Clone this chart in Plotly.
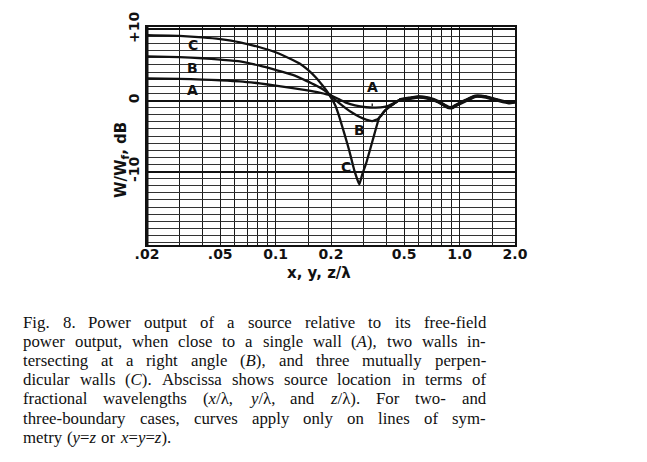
import math
import plotly.graph_objects as go

# ---------------- data ----------------
TAIL_X = [0.47, 0.53, 0.60, 0.68, 0.77, 0.83, 0.875, 0.92, 0.97, 1.08, 1.22, 1.39, 1.64, 1.85, 2.0]
TAIL_Y = [0.05, 0.30, 0.50, 0.30, -0.20, -0.70, -1.00, -0.95, -0.60, 0.00, 0.60, 0.50, 0.00, -0.30, -0.20]

A_X = [0.02, 0.03, 0.04, 0.05, 0.064, 0.082, 0.10, 0.124, 0.146, 0.173, 0.20, 0.22, 0.241, 0.27,
       0.31, 0.35, 0.39, 0.41, 0.44]
A_Y = [3.1, 3.05, 2.95, 2.85, 2.7, 2.4, 2.1, 1.75, 1.45, 1.1, 0.7, 0.2, -0.3, -0.7,
       -0.95, -1.0, -0.9, -0.75, -0.35]

B_X = [0.02, 0.03, 0.04, 0.05, 0.064, 0.082, 0.10, 0.124, 0.146, 0.166, 0.187, 0.20, 0.22, 0.241,
       0.26, 0.285, 0.31, 0.335, 0.36, 0.375, 0.39, 0.41, 0.44]
B_Y = [6.2, 6.1, 5.95, 5.75, 5.5, 4.9, 4.3, 3.6, 2.8, 2.1, 1.3, 0.6, -0.3, -1.1,
       -1.7, -2.3, -2.7, -2.9, -2.6, -2.1, -1.5, -1.0, -0.45]

C_X = [0.02, 0.03, 0.04, 0.05, 0.064, 0.082, 0.10, 0.124, 0.135, 0.15, 0.166, 0.18, 0.19, 0.20,
       0.212, 0.222, 0.231, 0.241, 0.251, 0.2675, 0.285, 0.295, 0.31, 0.337, 0.366, 0.375, 0.39,
       0.41, 0.44]
C_Y = [9.2, 9.1, 8.9, 8.65, 8.2, 7.5, 6.8, 5.7, 5.2, 4.3, 3.2, 2.1, 1.3, 0.4,
       -0.8, -2.3, -3.8, -5.4, -7.0, -9.8, -11.8, -10.5, -8.9, -5.6, -2.4, -2.1, -1.5,
       -1.0, -0.45]

X_TICKS = [0.02, 0.05, 0.1, 0.2, 0.5, 1.0, 2.0]
X_TICK_TEXT = [".02", ".05", "0.1", "0.2", "0.5", "1.0", "2.0"]
X_MINOR = [0.03, 0.04, 0.06, 0.07, 0.08, 0.09, 0.15, 0.3, 0.4, 0.6, 0.7, 0.8, 0.9, 1.5]
X_HEAVY = [0.2, 1.0]
Y_TICKS = [-10, 0, 10]
Y_TICK_TEXT = ["-10", "0", "+10"]

CAPTION = [
    "Fig.  8. Power output of a source relative to its free-field",
    "power output, when close to a single wall (<i>A</i>), two walls in-",
    "tersecting at a right angle (<i>B</i>), and three mutually perpen-",
    "dicular walls (<i>C</i>). Abscissa shows source location in terms of",
    "fractional wavelengths (<i>x</i>/λ, <i>y</i>/λ, and <i>z</i>/λ). For two- and",
    "three-boundary cases, curves apply only on lines of sym-",
    "metry (<i>y</i>=<i>z</i> or <i>x</i>=<i>y</i>=<i>z</i>).",
]

# ---------------- layout geometry ----------------
# the page body has an 8px margin, so the figure is drawn 8px smaller and
# all page-pixel positions are shifted by that offset
OFF = 8
W, H = 647 - OFF, 462 - OFF
L, R, T, B = 147 - OFF, 132, 27 - OFF, 217
PW, PH = W - L - R, H - T - B

def px_x(px):
    return (px - OFF - L) / PW

def px_y(py):
    return 1 - (py - OFF - T) / PH

fig = go.Figure()

for xs, ys in [(A_X, A_Y), (B_X, B_Y), (C_X, C_Y)]:
    fig.add_trace(go.Scatter(x=xs + TAIL_X, y=ys + TAIL_Y, mode="lines",
                             line=dict(color="#111111", width=2.3, shape="spline",
                                       smoothing=0.4),
                             hoverinfo="skip", showlegend=False))
# the merged tail is drawn heavier in the original
fig.add_trace(go.Scatter(x=TAIL_X, y=TAIL_Y, mode="lines",
                         line=dict(color="#111111", width=3.6, shape="spline", smoothing=0.4),
                         hoverinfo="skip", showlegend=False))

LETTER = dict(family="DejaVu Sans", size=14, color="#111111", weight="bold")

annotations = []
# curve labels
for txt, xv, yv in [("C", 0.0354, 7.8), ("B", 0.0354, 4.6), ("A", 0.0354, 1.5),
                    ("B", 0.285, -4.15), ("C", 0.2425, -9.4)]:
    annotations.append(dict(x=math.log10(xv), y=yv, xref="x", yref="y", text=txt,
                            showarrow=False, xanchor="center", yanchor="middle", font=LETTER))
annotations.append(dict(x=math.log10(0.335), y=-0.8, ax=math.log10(0.335), ay=1.9,
                        axref="x", ayref="y", xref="x", yref="y", text="A",
                        showarrow=True, arrowhead=0, arrowwidth=1.3, arrowcolor="#111",
                        standoff=0, startstandoff=7, font=LETTER))

# axis titles
annotations.append(dict(x=px_x(121), y=px_y(160), xref="paper", yref="paper",
                        xanchor="center", yanchor="middle",
                        text="W/W<sub>f</sub>, dB", textangle=-90, showarrow=False,
                        font=dict(LETTER, size=15)))
annotations.append(dict(x=px_x(319), y=px_y(273), xref="paper", yref="paper",
                        xanchor="center", yanchor="middle",
                        text="x, y, z/λ", showarrow=False, font=dict(LETTER, size=15)))

# caption (justified by word placement, Times metrics)
ROM = {' ': 250, '!': 333, '(': 333, ')': 333, ',': 250, '-': 333, '.': 250, '/': 278,
       '=': 564, 'λ': 520}
for ch in '0123456789':
    ROM[ch] = 500
ROM.update(dict(A=722, B=667, C=667, D=722, E=611, F=556, G=722, H=722, I=333, J=389,
                K=722, L=611, M=889, N=722, O=722, P=556, Q=722, R=667, S=556, T=611,
                U=722, V=722, W=944, X=722, Y=722, Z=611))
ROM.update(dict(a=444, b=500, c=444, d=500, e=444, f=333, g=500, h=500, i=278, j=278,
                k=500, l=278, m=778, n=500, o=500, p=500, q=500, r=333, s=389, t=278,
                u=500, v=500, w=722, x=500, y=500, z=444))
ITA = dict(A=611, B=611, C=667, x=444, y=444, z=389)

CAP_SIZE = 16.8
CAP_LEFT, CAP_RIGHT = 22, 485
CAP_Y0, CAP_DY = 322, 19.2

def word_width(word):
    w, italic, i = 0.0, False, 0
    while i < len(word):
        if word.startswith("<i>", i):
            italic = True; i += 3; continue
        if word.startswith("</i>", i):
            italic = False; i += 4; continue
        ch = word[i]
        w += (ITA.get(ch, ROM.get(ch, 500)) if italic else ROM.get(ch, 500))
        i += 1
    return w * CAP_SIZE / 1000.0

CAP_FONT = dict(family="Liberation Serif", size=CAP_SIZE, color="#111111")
for k, line in enumerate(CAPTION):
    words = line.split()
    yy = px_y(CAP_Y0 + k * CAP_DY)
    widths = [word_width(wd) for wd in words]
    if k == len(CAPTION) - 1:
        gap = 250 * CAP_SIZE / 1000.0 * 1.2
    else:
        gap = (CAP_RIGHT - CAP_LEFT - sum(widths)) / (len(words) - 1)
    xpos = CAP_LEFT
    for wd, ww in zip(words, widths):
        annotations.append(dict(x=px_x(xpos), y=yy, xref="paper", yref="paper", text=wd,
                                showarrow=False, xanchor="left", yanchor="middle",
                                borderpad=0, font=CAP_FONT))
        xpos += ww + gap

shapes = []
for xv in X_HEAVY:
    shapes.append(dict(type="line", xref="x", yref="y domain", x0=math.log10(xv),
                       x1=math.log10(xv), y0=0, y1=1, line=dict(color="#111", width=2.2),
                       layer="below"))
shapes.append(dict(type="line", xref="x domain", yref="y domain", x0=0, x1=0, y0=0, y1=1,
                   line=dict(color="#111", width=3)))

fig.update_layout(
    width=W, height=H, margin=dict(l=L, r=R, t=T, b=B, pad=0, autoexpand=False),
    paper_bgcolor="white", plot_bgcolor="white",
    annotations=annotations, shapes=shapes, showlegend=False,
    xaxis=dict(type="log", range=[math.log10(0.02), math.log10(2.0)], automargin=False,
               tickmode="array", tickvals=X_TICKS, ticktext=X_TICK_TEXT,
               showgrid=True, gridcolor="#1a1a1a", gridwidth=1.1,
               ticks="", tickfont=LETTER, showline=True, linecolor="#111",
               linewidth=2, mirror=True, zeroline=False, ticklabelstandoff=-5,
               minor=dict(tickmode="array", tickvals=X_MINOR, showgrid=True,
                          gridcolor="#1a1a1a", gridwidth=1, ticks="")),
    yaxis=dict(range=[-20.35, 10.35], tickmode="array", tickvals=Y_TICKS, automargin=False,
               ticktext=Y_TICK_TEXT, tickangle=-90, tickfont=dict(LETTER, size=14),
               showgrid=True, gridcolor="#111", gridwidth=2, ticks="",
               showline=True, linecolor="#111", linewidth=2, mirror=True,
               zeroline=False, ticklabelstandoff=0,
               minor=dict(dtick=1, showgrid=True, gridcolor="#333", gridwidth=1,
                          ticks="")),
)

fig.write_html("out.html")
